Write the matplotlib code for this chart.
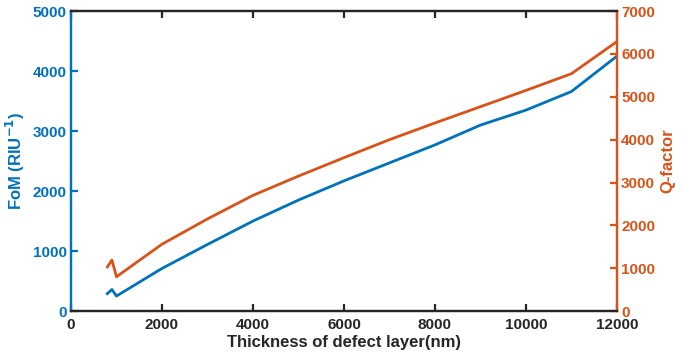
import numpy as np
import matplotlib.pyplot as plt

plt.rcParams['font.family'] = ['Liberation Sans', 'DejaVu Sans']
plt.rcParams['font.weight'] = 'bold'

# thickness of defect layer (nm)
thickness = [800, 900, 1000, 2000, 3000, 4000, 5000, 6000, 7000, 8000, 9000, 10000, 11000, 12000]
# figure of merit (RIU^-1)
fom = [290, 360, 250, 710, 1110, 1500, 1850, 2170, 2470, 2770, 3100, 3350, 3660, 4250]
# quality factor
qfactor = [1030, 1190, 800, 1560, 2150, 2700, 3150, 3580, 4000, 4390, 4770, 5150, 5540, 6290]

xticks = [0, 2000, 4000, 6000, 8000, 10000, 12000]
fom_ticks = [0, 1000, 2000, 3000, 4000, 5000]
q_ticks = [0, 1000, 2000, 3000, 4000, 5000, 6000, 7000]

blue = '#0072BD'
orange = '#D95319'

fig = plt.figure(figsize=(6.85, 3.6), dpi=100)
ax = fig.add_axes([0.1036, 0.136, 0.797, 0.833])
ax2 = ax.twinx()

ax.plot(thickness, fom, color=blue, lw=2.0)
ax2.plot(thickness, qfactor, color=orange, lw=2.0)

ax.set_xlim(0, 12000)
ax.set_ylim(0, 5000)
ax2.set_ylim(0, 7000)
ax.set_xticks(xticks)
ax.set_yticks(fom_ticks)
ax2.set_yticks(q_ticks)

for a in (ax, ax2):
    for s in a.spines.values():
        s.set_linewidth(1.6)
    a.spines['top'].set_color('#262626')
    a.spines['bottom'].set_color('#262626')
    a.spines['left'].set_color(blue)
    a.spines['right'].set_color(orange)

ax.tick_params(axis='x', direction='in', top=True, length=5, width=1.6,
               colors='#262626', labelsize=11, pad=5)
ax.tick_params(axis='y', direction='in', length=5, width=1.6,
               colors=blue, labelsize=11, pad=3)
ax2.tick_params(axis='y', direction='in', length=5, width=1.6,
                colors=orange, labelsize=11, pad=3)

ax.set_xlabel('Thickness of defect layer(nm)', fontsize=12, fontweight='bold', color='#262626', labelpad=2)
ax.set_ylabel('FoM (RIU$^{\\mathbf{-1}}$)', fontsize=12, fontweight='bold', color=blue, labelpad=4)
ax2.set_ylabel('Q-factor', fontsize=12, fontweight='bold', color=orange, labelpad=4)

fig.savefig('out.png', dpi=100)
